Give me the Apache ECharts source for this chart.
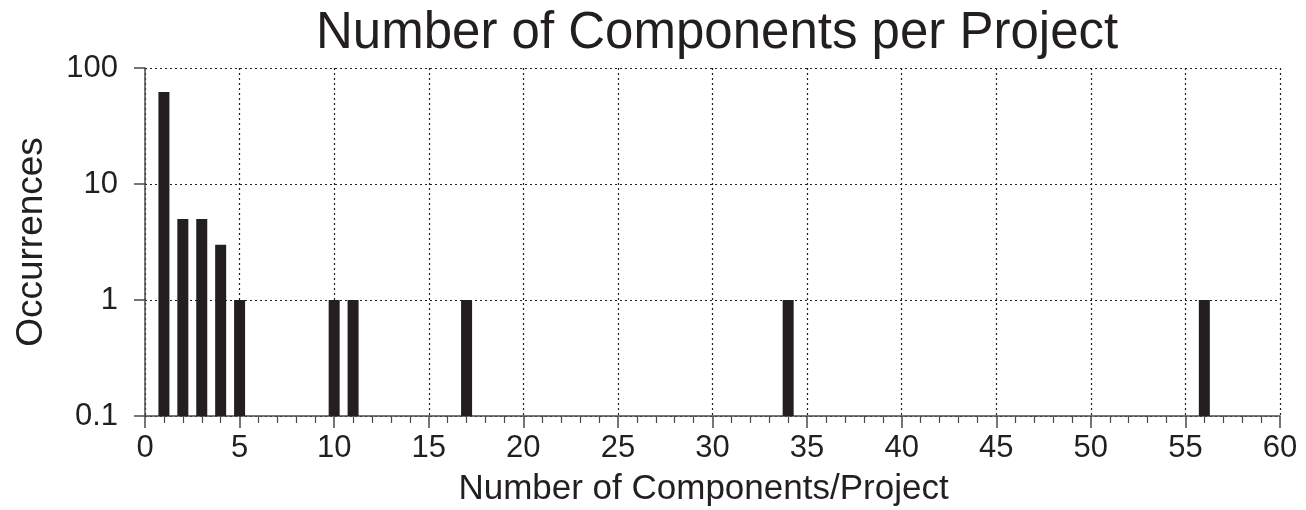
<!DOCTYPE html>
<html>
<head>
<meta charset="utf-8">
<script src="https://cdn.jsdelivr.net/npm/echarts@6/dist/echarts.min.js"></script>
<style>html,body{margin:0;padding:0;background:#fff;}#c{width:1306px;height:510px;}</style>
</head>
<body>
<div id="c"></div>
<script>
// Data
var componentsPerProject = [1, 2, 3, 4, 5, 10, 11, 17, 34, 56];
var occurrences = [62, 5, 5, 3, 1, 1, 1, 1, 1, 1];
var titleText = 'Number of Components per Project';
var xAxisName = 'Number of Components/Project';
var yAxisName = 'Occurrences';

var barData = componentsPerProject.map(function (x, i) { return [x, occurrences[i]]; });
var textColor = '#231f20';
var font = 'Liberation Sans, Arial, Helvetica, sans-serif';

var chart = echarts.init(document.getElementById('c'), null, {renderer: 'canvas'});
chart.setOption({
  animation: false,
  backgroundColor: '#ffffff',
  title: {
    text: titleText,
    left: 311,
    top: 3,
    textStyle: {fontFamily: font, fontSize: 51, fontWeight: 'normal', color: textColor}
  },
  grid: {left: 145, right: 26, top: 68, bottom: 94, containLabel: false, outerBoundsMode: 'none'},
  xAxis: {
    type: 'value',
    min: 0, max: 60, interval: 5,
    name: xAxisName,
    nameLocation: 'middle',
    nameGap: 56,
    nameTextStyle: {fontFamily: font, fontSize: 35, color: textColor, padding: [0, 18, 0, 0]},
    axisLine: {show: true, onZero: false, lineStyle: {color: '#4a4a4a', width: 1.5}},
    axisTick: {show: true, inside: false, length: 12, lineStyle: {color: '#4a4a4a', width: 1.5}},
    minorTick: {show: true, splitNumber: 5, length: 7, lineStyle: {color: '#4a4a4a', width: 1.2}},
    axisLabel: {fontFamily: font, fontSize: 31, color: textColor, margin: 17},
    splitLine: {show: true, lineStyle: {color: '#222', width: 1.2, type: [2, 3]}}
  },
  yAxis: {
    type: 'log',
    logBase: 10,
    min: 0.1, max: 100,
    startValue: 0.1,
    name: yAxisName,
    nameLocation: 'middle',
    nameGap: 95,
    nameTextStyle: {fontFamily: font, fontSize: 37, color: textColor},
    axisLine: {show: true, onZero: false, lineStyle: {color: '#4a4a4a', width: 1.5}},
    axisTick: {show: true, inside: false, length: 11, lineStyle: {color: '#4a4a4a', width: 1.5}},
    axisLabel: {fontFamily: font, fontSize: 31, color: textColor, margin: 27,
      formatter: function (v) { return String(+v.toPrecision(6)); }},
    splitLine: {show: true, lineStyle: {color: '#222', width: 1.2, type: [2, 3]}}
  },
  series: [{
    type: 'bar',
    data: barData,
    barWidth: 11,
    itemStyle: {color: '#231f20'}
  }]
});
</script>
</body>
</html>
